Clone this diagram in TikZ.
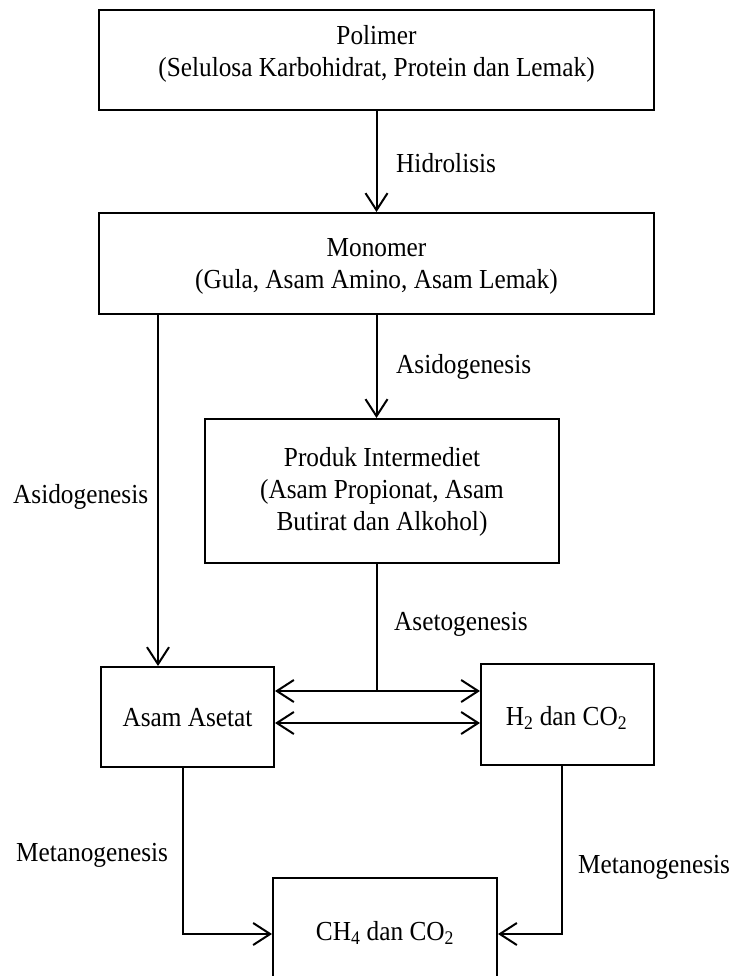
\documentclass[tikz,border=0pt]{standalone}
\usepackage{fontspec}
\setmainfont{Liberation Serif}[FakeStretch=0.92]
\usetikzlibrary{arrows.meta}
\begin{document}
\begin{tikzpicture}[x=1pt,y=-1pt,
  box/.style={draw, line width=2pt, rectangle, inner sep=0pt},
  txt/.style={inner sep=0pt, align=center, font=\fontsize{27.5}{32}\selectfont},
  lbl/.style={inner sep=0pt, anchor=base west, font=\fontsize{27.5}{32}\selectfont},
  conn/.style={line width=2pt},
  arr/.style={conn, -{Straight Barb[length=17pt,width=22pt]}},
  darr/.style={conn, {Straight Barb[length=17pt,width=22pt]}-{Straight Barb[length=17pt,width=22pt]}}
]
\clip (0,0) rectangle (731,976);
\fill[white] (0,0) rectangle (731,976);

% boxes
\node[box, minimum width=555, minimum height=100] (polimer) at (376.5,60) {};
\node[txt] (polimertxt) at (376.5,54) {Polimer\\(Selulosa Karbohidrat, Protein dan Lemak)};

\node[box, minimum width=555, minimum height=101] (monomer) at (376.5,263.5) {};
\node[txt] (monomertxt) at (376.5,266) {Monomer\\(Gula, Asam Amino, Asam Lemak)};

\node[box, minimum width=354, minimum height=144] (produk) at (382,491) {};
\node[txt] (produktxt) at (382,492) {Produk Intermediet\\(Asam Propionat, Asam\\Butirat dan Alkohol)};

\node[box, minimum width=173, minimum height=100] (asam) at (187.5,717) {};
\node[txt] (asamtxt) at (187.5,718) {Asam Asetat};

\node[box, minimum width=173, minimum height=101] (h2) at (567.5,714.5) {};
\node[txt] (h2txt) at (566.5,718) {H\textsubscript{2} dan CO\textsubscript{2}};

\node[box, minimum width=224, minimum height=112] (ch4) at (385,934) {};
\node[txt] (ch4txt) at (385,933) {CH\textsubscript{4} dan CO\textsubscript{2}};

% connectors
\draw[arr] (polimer.south) -- (monomer.north);
\draw[arr] (monomer.south) -- (monomer.south |- produk.north);
\draw[arr] (monomer.south -| 158,0) -- (asam.north -| 158,0);

\coordinate (junc) at (377,691);
\draw[conn] (produk.south -| junc) -- (junc);
\draw[darr] (asam.east |- junc) -- (h2.west |- junc);
\draw[darr] (asam.east |- 0,723) -- (h2.west |- 0,723);

\draw[arr] (asam.south -| 183,0) |- (ch4.west);
\draw[arr] (h2.south -| 562,0) |- (ch4.east);

% labels
\node[lbl] (l1) at (396,173) {Hidrolisis};
\node[lbl] (l2) at (396,373) {Asidogenesis};
\node[lbl] (l3) at (13,503) {Asidogenesis};
\node[lbl] (l4) at (394,630) {Asetogenesis};
\node[lbl] (l5) at (16,861) {Metanogenesis};
\node[lbl] (l6) at (578,873) {Metanogenesis};
\end{tikzpicture}
\end{document}
